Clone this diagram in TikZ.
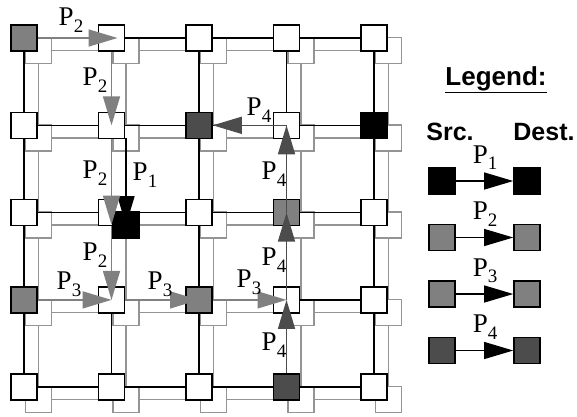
\documentclass[tikz,border=0pt]{standalone}
\usepackage{fontspec}
\setmainfont{Liberation Serif}
\newfontfamily\legendfont{Liberation Sans}
\usetikzlibrary{arrows.meta}

\definecolor{midgray}{gray}{0.5}
\definecolor{srcdark}{gray}{0.3}
\definecolor{linkgray}{gray}{0.58}

\pgfdeclarelayer{glinks}
\pgfdeclarelayer{gnodes}
\pgfdeclarelayer{links}
\pgfsetlayers{glinks,gnodes,links,main}

% path label, P with a lowered index
\newcommand{\pl}[1]{P\raisebox{-6.5pt}{\fontsize{19}{19}\selectfont #1}}

\begin{document}
\begin{tikzpicture}[x=1pt, y=-1pt,
    router/.style={draw, line width=1.6pt, fill=white, minimum size=26pt, inner sep=0pt},
    shadow/.style={router, draw=linkgray, line width=1.4pt},
    link/.style={line width=1.6pt},
    glink/.style={linkgray, line width=1.4pt},
    hop/.style={line width=1.6pt, -{Triangle[length=29pt,width=17pt]}},
    lbl/.style={font=\fontsize{27}{27}\selectfont, inner sep=0pt},
    head/.style={font=\legendfont\bfseries\fontsize{25}{25}\selectfont, inner sep=0pt}]
  \useasboundingbox (0,0) rectangle (577,416);

  % lower mesh
  \begin{pgfonlayer}{gnodes}
    \foreach \i in {0,...,4}
      \foreach \j in {0,...,4}
        \node[shadow] (m\i\j) at ({38.5+87.5*\i}, {50.5+87.3*\j}) {};
  \end{pgfonlayer}
  \begin{pgfonlayer}{glinks}
    \foreach \i [evaluate=\i as \k using int(\i+1)] in {0,...,3}
      \foreach \j in {0,...,4} {
        \draw[glink] (m\i\j.center) -- (m\k\j.center);
        \draw[glink] (m\j\i.center) -- (m\j\k.center);
      }
  \end{pgfonlayer}

  % upper mesh
  \foreach \i in {0,...,4}
    \foreach \j in {0,...,4}
      \node[router] (n\i\j) at ({24+87.5*\i}, {38+87.3*\j}) {};
  \begin{pgfonlayer}{links}
    \foreach \i [evaluate=\i as \k using int(\i+1)] in {0,...,3}
      \foreach \j in {0,...,4} {
        \draw[link] (n\i\j.center) -- (n\k\j.center);
        \draw[link] (n\j\i.center) -- (n\j\k.center);
      }
  \end{pgfonlayer}

  % sources and destinations
  \node[router, fill=midgray] at (n00) {};
  \node[router, fill=midgray] at (n03) {};
  \node[router, fill=midgray] at (n23) {};
  \node[router, fill=midgray] at (n32) {};
  \node[router, fill=srcdark] at (n21) {};
  \node[router, fill=srcdark] at (n34) {};
  \node[router, fill=black] at (n41) {};
  \node[router, fill=black] at (m12) {};

  % P1
  \draw[hop] (m11.center) -- (m12.center);
  \node[lbl] (l1) at (145,175) {\pl{1}};

  % P2
  \draw[hop, midgray, shorten >=-6pt] (n00) -- (n10.center);
  \draw[hop, midgray] (n10) -- (n11.center);
  \draw[hop, midgray, shorten >=-12pt] (n11) -- (n12.center);
  \draw[hop, midgray] (n12) -- (n13.center);
  \node[lbl] (l2a) at (71,20) {\pl{2}};
  \node[lbl] (l2b) at (95,80) {\pl{2}};
  \node[lbl] (l2c) at (95,173) {\pl{2}};
  \node[lbl] (l2d) at (95,255) {\pl{2}};

  % P3
  \draw[hop, midgray] (n03) -- (n13.center);
  \draw[hop, midgray] (n13) -- (n23.center);
  \draw[hop, midgray] (n23) -- (n33.center);
  \node[lbl] (l3a) at (69,284) {\pl{3}};
  \node[lbl] (l3b) at (160,284) {\pl{3}};
  \node[lbl] (l3c) at (249,282) {\pl{3}};

  % P4
  \draw[hop, srcdark] (n34) -- (n33.center);
  \draw[hop, srcdark] (n33.center) -- (n32.center);
  \draw[hop, srcdark] (n32.center) -- (n31.center);
  \draw[hop, srcdark] (n31.center) -- (n21);
  \node[lbl] (l4a) at (274,345) {\pl{4}};
  \node[lbl] (l4b) at (274,260) {\pl{4}};
  \node[lbl] (l4c) at (274,174) {\pl{4}};
  \node[lbl] (l4d) at (259,110) {\pl{4}};

  % legend
  \node[head, font=\legendfont\bfseries\fontsize{26}{26}\selectfont] (leg) at (496,80) {\underline{Legend:}};
  \node[head] (src) at (450,132) {Src.};
  \node[head] (dst) at (544,132) {Dest.};
  \foreach \k/\c in {1/black, 2/midgray, 3/midgray, 4/srcdark} {
    \node[router, fill=\c] (ls\k) at (442, {181+56.5*(\k-1)}) {};
    \node[router, fill=\c] (ld\k) at (527, {181+56.5*(\k-1)}) {};
    \draw[hop, line width=1.2pt] (ls\k) -- (ld\k);
    \node[lbl] (ll\k) at (485, {157.5+56.5*(\k-1)}) {\pl{\k}};
  }
\end{tikzpicture}
\end{document}
